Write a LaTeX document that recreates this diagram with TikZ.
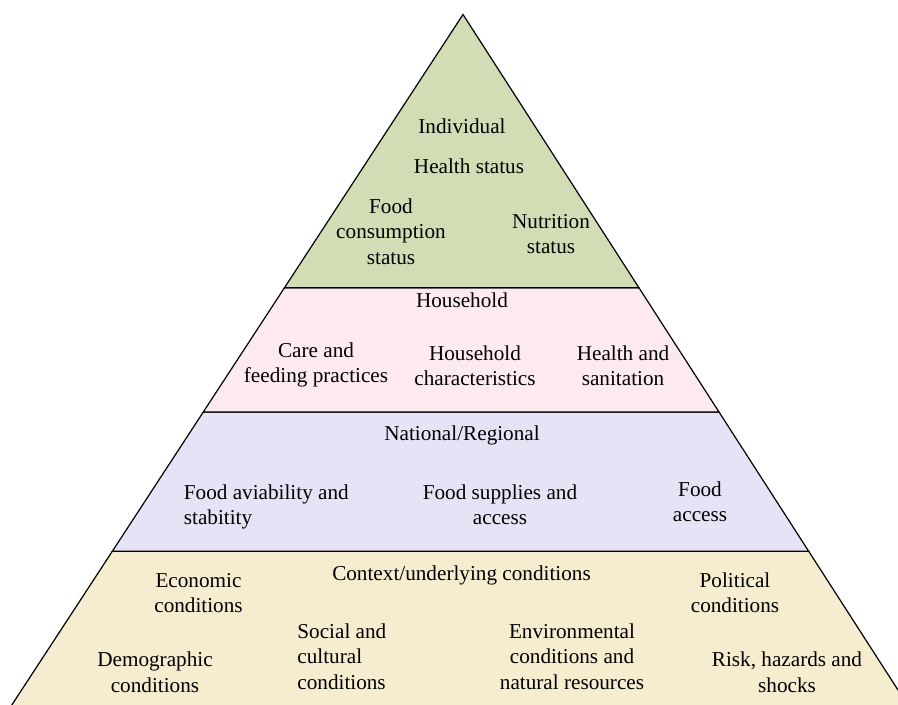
\documentclass[tikz,border=0pt]{standalone}
\usepackage{fontspec}
\setmainfont{Liberation Serif}
\definecolor{lvgreen}{RGB}{209,221,181}
\definecolor{lvpink}{RGB}{253,234,240}
\definecolor{lvlav}{RGB}{232,226,246}
\definecolor{lvbeige}{RGB}{246,236,207}
\begin{document}
\begin{tikzpicture}[x=0.5pt,y=-0.5pt,
  band/.style={draw=black,line width=0.6pt,line join=miter},
  lbl/.style={inner sep=0pt,anchor=north,yshift=8.89pt,align=center,font=\fontsize{10.6}{12.7}\selectfont},
  lbll/.style={lbl,align=left,anchor=north west}]
\useasboundingbox (0,0) rectangle (898,705);
\clip (0,0) rectangle (898,705);
\coordinate (apex) at (463,14.5);
\coordinate (l1) at (284.5,287.7);
\coordinate (r1) at (638.9,287.7);
\coordinate (l2) at (203.3,412);
\coordinate (r2) at (719,412);
\coordinate (l3) at (112.3,551.3);
\coordinate (r3) at (808.7,551.3);
\coordinate (l4) at (2,720);
\coordinate (r4) at (917.3,720);
\filldraw[band,fill=lvbeige] (l3) -- (r3) -- (r4) -- (l4) -- cycle;
\filldraw[band,fill=lvlav] (l2) -- (r2) -- (r3) -- (l3) -- cycle;
\filldraw[band,fill=lvpink] (l1) -- (r1) -- (r2) -- (l2) -- cycle;
\filldraw[band,fill=lvgreen] (apex) -- (r1) -- (l1) -- cycle;
% Individual
\node[lbl] (indiv) at (462,133) {\strut Individual};
\node[lbl] (health) at (469,172.7) {\strut Health status};
\node[lbl] (foodcons) at (391,213) {\strut Food\\consumption\\status};
\node[lbl] (nutr) at (551,228) {\strut Nutrition\\status};
% Household
\node[lbl] (hh) at (462,307) {\strut Household};
\node[lbl] (care) at (316,357) {\strut Care and\\feeding practices};
\node[lbl] (hhchar) at (475,360) {\strut Household\\characteristics};
\node[lbl] (hsan) at (623,360) {\strut Health and\\sanitation};
% National
\node[lbl] (nat) at (462,440) {\strut National/Regional};
\node[lbll] (avail) at (183.5,499) {\strut Food aviability and\\stabitity};
\node[lbl] (supp) at (500,499) {\strut Food supplies and\\access};
\node[lbl] (facc) at (700,496) {\strut Food\\access};
% Context
\node[lbl] (ctx) at (461.5,580) {\strut Context/underlying conditions};
\node[lbl] (econ) at (198.5,587) {\strut Economic\\conditions};
\node[lbl] (pol) at (735,587) {\strut Political\\conditions};
\node[lbll] (soc) at (297,638) {\strut Social and\\cultural\\conditions};
\node[lbl] (env) at (572,638) {\strut Environmental\\conditions and\\natural resources};
\node[lbl] (demo) at (155,666.5) {\strut Demographic\\conditions};
\node[lbl] (risk) at (787,666.5) {\strut Risk, hazards and\\shocks};
\end{tikzpicture}
\end{document}
